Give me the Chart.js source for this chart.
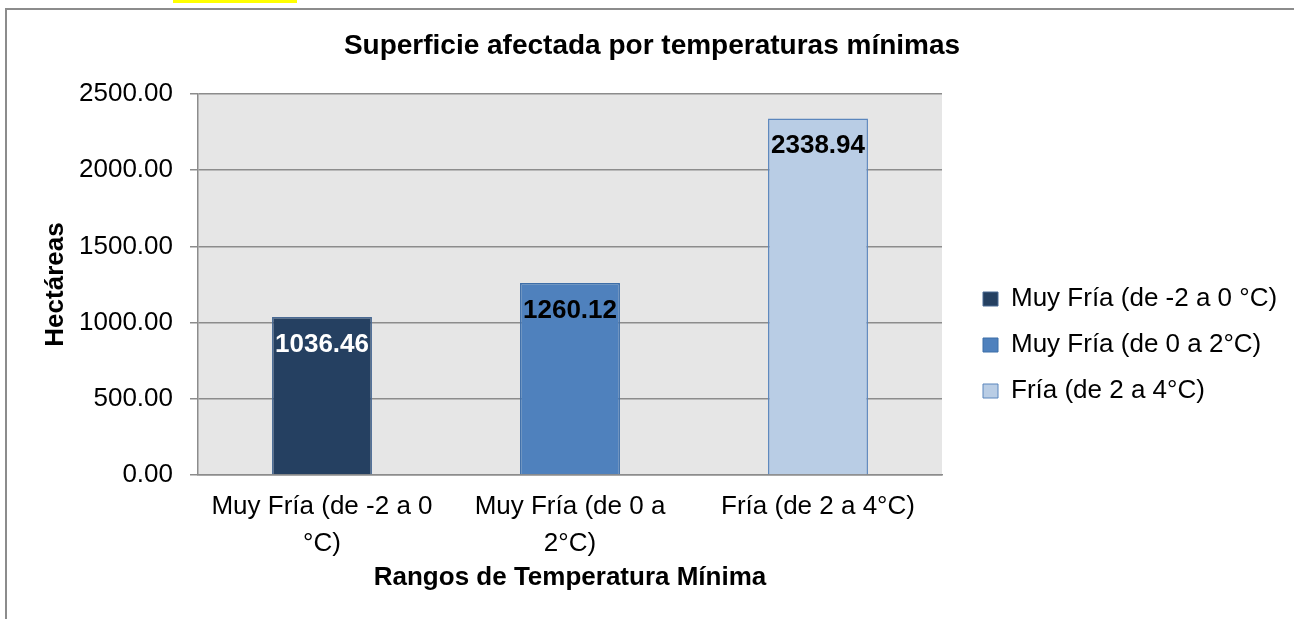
<!DOCTYPE html>
<html>
<head>
<meta charset="UTF-8">
<title>Superficie afectada por temperaturas mínimas</title>
<script src="https://cdn.jsdelivr.net/npm/chart.js"></script>
<style>
  html, body { margin: 0; padding: 0; overflow: hidden; background: #fff; }
  #mark { position: absolute; left: 173px; top: 0; width: 124px; height: 3px; background: #ffff00; }
  #frame { position: absolute; left: 5px; top: 8px; width: 1300px; height: 640px; border: 2px solid #8c8c8c; }
  #chart { position: absolute; left: 0; top: 0; }
</style>
</head>
<body>
<div id="mark"></div>
<div id="frame">
  <canvas id="chart" width="1290" height="620"></canvas>
</div>

<script>
  const categories = [['Muy Fría (de -2 a 0', '°C)'], ['Muy Fría (de 0 a', '2°C)'], 'Fría (de 2 a 4°C)'];
  const legendNames = ['Muy Fría (de -2 a 0 °C)', 'Muy Fría (de 0 a 2°C)', 'Fría (de 2 a 4°C)'];
  const hectareas = [1036.46, 1260.12, 2338.94];
  const yMin = 0, yMax = 2500, yStep = 500;

  const barColors = ['#254061', '#4f81bd', '#b9cde5'];
  const barBorders = ['#4a6a94', '#3d6ea8', '#5b86bd'];
  const labelColors = ['#ffffff', '#000000', '#000000'];
  const family = "'Liberation Sans', Arial, sans-serif";
  const gridGray = '#8c8c8c';

  // grey plot area like the Excel original
  const plotBg = {
    id: 'plotBg',
    beforeDraw(chart) {
      const { ctx, chartArea: a } = chart;
      ctx.save();
      ctx.fillStyle = '#e6e6e6';
      ctx.fillRect(a.left, a.top, a.right - a.left, a.bottom - a.top);
      ctx.restore();
    }
  };

  // value labels inside the top of each bar
  const barLabels = {
    id: 'barLabels',
    afterDatasetsDraw(chart) {
      const { ctx } = chart;
      const meta = chart.getDatasetMeta(0);
      ctx.save();
      ctx.font = 'bold 26px ' + family;
      ctx.textAlign = 'center';
      ctx.textBaseline = 'middle';
      meta.data.forEach((bar, i) => {
        ctx.fillStyle = labelColors[i];
        ctx.fillText(hectareas[i].toFixed(2), bar.x, bar.y + 27.5);
      });
      ctx.restore();
    }
  };

  new Chart(document.getElementById('chart'), {
    type: 'bar',
    data: {
      labels: categories,
      datasets: [{
        data: hectareas,
        backgroundColor: barColors,
        borderColor: barBorders,
        borderWidth: 1.5,
        barPercentage: 0.403,
        categoryPercentage: 1
      }]
    },
    options: {
      responsive: false,
      animation: false,
      devicePixelRatio: 1,
      layout: { padding: { left: 20, right: 20, top: 0, bottom: 0 } },
      plugins: {
        tooltip: { enabled: false },
        title: {
          display: true,
          text: 'Superficie afectada por temperaturas mínimas',
          color: '#000',
          font: { size: 28, weight: 'bold', family },
          padding: { top: 19, bottom: 31.4 }
        },
        legend: {
          position: 'right',
          align: 'start',
          maxWidth: 314,
          title: { display: true, text: ' ', padding: { top: 241.6, bottom: 0 } },
          labels: {
            boxWidth: 15,
            boxHeight: 14,
            padding: 20,
            color: '#000',
            font: { size: 26, family },
            generateLabels: () => legendNames.map((t, i) => ({
              text: t,
              fillStyle: barColors[i],
              strokeStyle: barBorders[i],
              lineWidth: 1,
              fontColor: '#000',
              hidden: false,
              index: i
            }))
          }
        }
      },
      scales: {
        x: {
          grid: { display: false, drawTicks: false },
          border: { display: true, color: gridGray, width: 1.5 },
          ticks: {
            color: '#000', padding: 13, maxRotation: 0, autoSkip: false,
            font: { size: 26, family, lineHeight: 1.423 }
          },
          title: {
            display: true,
            text: 'Rangos de Temperatura Mínima',
            color: '#000',
            font: { size: 26, weight: 'bold', family },
            padding: { top: 0, bottom: 37 }
          },
          afterFit: s => { s.height = 155; }
        },
        y: {
          min: yMin,
          max: yMax,
          ticks: {
            stepSize: yStep, padding: 17, color: '#000',
            font: { size: 26, family },
            callback: v => v.toFixed(2)
          },
          grid: { color: gridGray, lineWidth: 1.5, tickLength: 8 },
          border: { color: gridGray, width: 1.5 },
          title: {
            display: true,
            text: 'Hectáreas',
            color: '#000',
            font: { size: 26, weight: 'bold', family },
            padding: { top: 13, bottom: 0 }
          },
          afterFit: s => { s.width = 171; }
        },
        gap: {
          type: 'linear',
          position: 'right',
          grid: { display: false },
          border: { display: false },
          ticks: { display: false },
          afterFit: s => { s.width = 21; }
        }
      }
    },
    plugins: [plotBg, barLabels]
  });
</script>
</body>
</html>
